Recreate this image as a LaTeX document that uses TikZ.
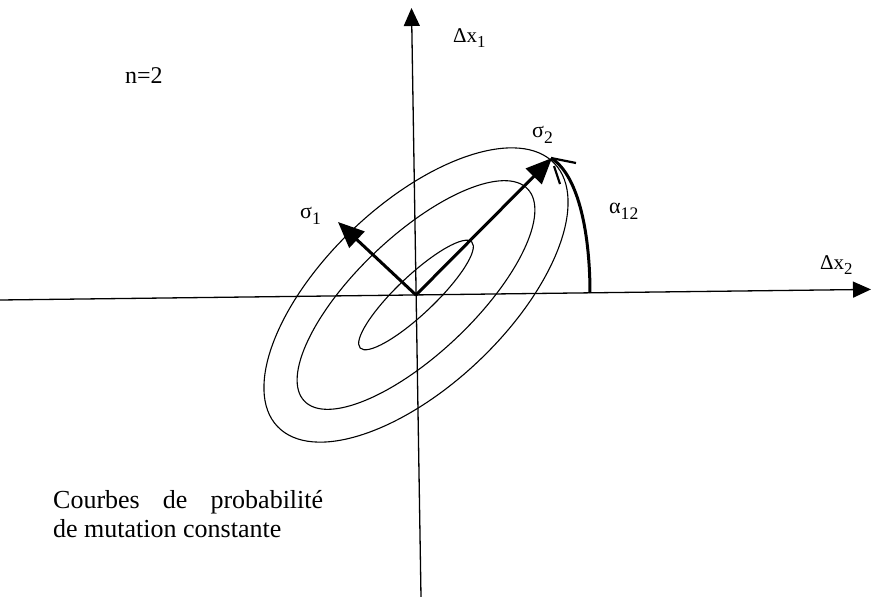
\documentclass[tikz,border=0pt]{standalone}
\usepackage{fontspec}
\setmainfont{Liberation Serif}
\usetikzlibrary{arrows.meta}
\newcommand{\lowsub}[1]{\raisebox{-0.28em}{\scalebox{0.8}{#1}}}
\begin{document}
\begin{tikzpicture}[x=1pt,y=-1pt,
  axis/.style={line width=1.3pt,-{Triangle[length=18pt,width=16pt]}},
  contour/.style={line width=1.1pt},
  sigarrow/.style={line width=3pt,-{Triangle[length=26pt,width=22pt]}},
  arcline/.style={line width=3pt},
  barb/.style={line width=2.2pt},
  lbl/.style={inner sep=0pt,anchor=base west},
]
\useasboundingbox (0,0) rectangle (871,597);
\coordinate (O) at (416,295);
\coordinate (xl) at (0,300);
\coordinate (xr) at (871,289.4);
\coordinate (yb) at (421,597);
\coordinate (yt) at (411.5,8);
\draw[axis] (xl) -- (xr);
\draw[axis] (yb) -- (yt);
\foreach \a/\b in {77/19,154/59,191/91}
  \draw[contour,rotate around={43.5:(O)}] (O) ellipse [x radius=\a pt, y radius=\b pt];
\coordinate (s2) at (552,158);
\coordinate (s1) at (338,222);
\draw[sigarrow] (O) -- (s2);
\draw[sigarrow] (O) -- (s1);
\coordinate (a0) at (590,293);
\coordinate (at) at (551,158);
\coordinate (b1) at (576,163);
\coordinate (b2a) at (554,166);
\coordinate (b2b) at (560,184);
\draw[arcline] (a0) .. controls (590,238) and (580,176) .. (at);
\draw[barb] (at) -- (b1);
\draw[barb] (b2a) -- (b2b);
\node[lbl,font=\fontsize{24}{28}\selectfont] (n) at (125,83) {n=2};
\node[lbl,font=\fontsize{21}{25}\selectfont] (dx1) at (453,42) {Δx\lowsub{1}};
\node[lbl,font=\fontsize{21}{25}\selectfont] (dx2) at (820,269) {Δx\lowsub{2}};
\node[lbl,font=\fontsize{22}{26}\selectfont] (sg1) at (300,218) {σ\lowsub{1}};
\node[lbl,font=\fontsize{22}{26}\selectfont] (sg2) at (532,137) {σ\lowsub{2}};
\node[lbl,font=\fontsize{22}{26}\selectfont] (al) at (609,213) {α\lowsub{12}};
\node[lbl,font=\fontsize{26}{30}\selectfont] (c1) at (53,508) {\makebox[270pt][s]{Courbes de probabilité}};
\node[lbl,font=\fontsize{26}{30}\selectfont] (c2) at (53,537) {de mutation constante};
\end{tikzpicture}
\end{document}
